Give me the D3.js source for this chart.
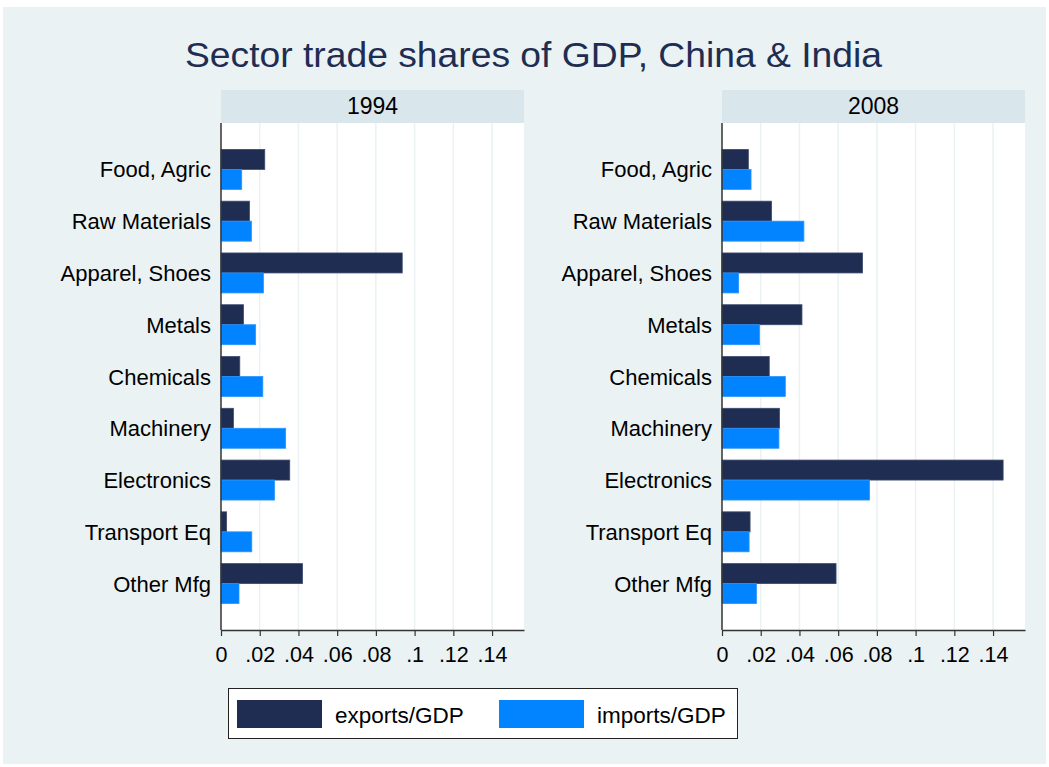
<!DOCTYPE html>
<html>
<head>
<meta charset="utf-8">
<script src="https://cdn.jsdelivr.net/npm/d3@7"></script>
<style>
  body { margin: 0; background: #fff; }
  svg { display: block; font-family: 'Liberation Sans', Arial, Helvetica, sans-serif; }
</style>
</head>
<body>
<div id="chart"></div>
<script>
const categories = ['Food, Agric', 'Raw Materials', 'Apparel, Shoes', 'Metals', 'Chemicals',
  'Machinery', 'Electronics', 'Transport Eq', 'Other Mfg']
const years = ['1994', '2008']
const series = ['exports/GDP', 'imports/GDP']
const exports1994 = [0.0226, 0.0147, 0.0936, 0.0116, 0.0097, 0.0064, 0.0355, 0.0029, 0.0421]
const imports1994 = [0.0107, 0.0157, 0.0219, 0.0179, 0.0216, 0.0334, 0.0276, 0.0159, 0.0093]
const exports2008 = [0.0136, 0.0256, 0.0726, 0.0413, 0.0244, 0.0297, 0.1452, 0.0145, 0.0589]
const imports2008 = [0.0150, 0.0423, 0.0086, 0.0194, 0.0327, 0.0294, 0.0762, 0.0140, 0.0178]
const xTicks = [0, 0.02, 0.04, 0.06, 0.08, 0.1, 0.12, 0.14]

const width = 1049
const height = 767
const colors = { 'exports/GDP': '#1f2d52', 'imports/GDP': '#0283ff' }
const bg = '#eaf2f3'

const svg = d3.select('#chart').append('svg')
  .attr('width', width)
  .attr('height', height)

svg.append('rect')
  .attr('x', 3).attr('y', 7)
  .attr('width', 1043).attr('height', 757)
  .attr('fill', bg)

svg.append('text')
  .attr('x', 185)
  .attr('y', 67)
  .attr('textLength', 697)
  .attr('lengthAdjust', 'spacingAndGlyphs')
  .attr('font-size', 35)
  .attr('fill', '#1e2d51')
  .text('Sector trade shares of GDP, China & India')

// stata style labels: .02 instead of 0.02
const fmt = d => d === 0 ? '0' : d3.format('.2~f')(d).replace(/^0\./, '.')

const panels = [
  { year: years[0], left: 221, values: [exports1994, imports1994] },
  { year: years[1], left: 722, values: [exports2008, imports2008] },
]

const plotTop = 123
const plotBottom = 630
const panelWidth = 303

const y = d3.scaleBand()
  .domain(categories)
  .range([plotTop, plotBottom])
  .paddingInner(0.228)
  .paddingOuter(0.51)

const ySub = d3.scaleBand()
  .domain(series)
  .range([0, y.bandwidth()])

panels.forEach(p => {
  const x = d3.scaleLinear()
    .domain([0, 0.1565])
    .range([p.left, p.left + panelWidth])

  const g = svg.append('g')

  // strip header
  g.append('rect')
    .attr('x', p.left).attr('y', 90)
    .attr('width', panelWidth).attr('height', plotTop - 90)
    .attr('fill', '#d9e6eb')
  g.append('text')
    .attr('x', p.left + panelWidth / 2)
    .attr('y', 114)
    .attr('text-anchor', 'middle')
    .attr('font-size', 23)
    .attr('fill', '#000')
    .text(p.year)

  // plot region
  g.append('rect')
    .attr('x', p.left).attr('y', plotTop)
    .attr('width', panelWidth).attr('height', plotBottom - plotTop)
    .attr('fill', '#fff')

  g.selectAll('.grid')
    .data(xTicks.filter(d => d > 0))
    .enter()
    .append('line')
    .attr('x1', d => x(d)).attr('x2', d => x(d))
    .attr('y1', plotTop).attr('y2', plotBottom)
    .attr('stroke', bg)
    .attr('stroke-width', 1.5)

  const rows = categories.map((c, i) => ({
    cat: c,
    bars: series.map((s, j) => ({ s, v: p.values[j][i] })),
  }))

  const row = g.selectAll('.row')
    .data(rows)
    .enter()
    .append('g')
    .attr('transform', d => `translate(0,${y(d.cat)})`)

  row.selectAll('rect')
    .data(d => d.bars)
    .enter()
    .append('rect')
    .attr('x', x(0))
    .attr('y', d => ySub(d.s))
    .attr('width', d => x(d.v) - x(0))
    .attr('height', ySub.bandwidth())
    .attr('fill', d => colors[d.s])
    .attr('stroke', d => d.s === series[0] ? '#3c4a6c' : '#2a95ff')
    .attr('stroke-width', 0.8)

  // category labels
  g.selectAll('.cat')
    .data(categories)
    .enter()
    .append('text')
    .attr('x', p.left - 10)
    .attr('y', d => y(d) + y.bandwidth() / 2 + 8)
    .attr('text-anchor', 'end')
    .attr('font-size', 22)
    .attr('fill', '#000')
    .text(d => d)

  // axes
  g.append('line')
    .attr('x1', p.left).attr('x2', p.left)
    .attr('y1', plotTop).attr('y2', plotBottom)
    .attr('stroke', '#333').attr('stroke-width', 1.5)

  const xAxis = d3.axisBottom(x)
    .tickValues(xTicks)
    .tickFormat(fmt)
    .tickSize(6)
    .tickSizeOuter(0)

  const ax = g.append('g')
    .attr('transform', `translate(0,${plotBottom})`)
    .call(xAxis)
  ax.select('.domain').attr('stroke', '#333').attr('stroke-width', 1.5)
  ax.selectAll('.tick line').attr('stroke', '#333').attr('stroke-width', 1.2)
  ax.selectAll('.tick text')
    .attr('font-size', 21.5)
    .attr('font-family', "'Liberation Sans', Arial, sans-serif")
    .attr('fill', '#000')
    .attr('y', 17)
})

// legend
const legend = svg.append('g')
legend.append('rect')
  .attr('x', 228.5).attr('y', 688.5)
  .attr('width', 509).attr('height', 50)
  .attr('fill', '#fff')
  .attr('stroke', '#222')
  .attr('stroke-width', 1)

const legendX = d3.scalePoint().domain(series).range([237, 499])

const item = legend.selectAll('.item')
  .data(series)
  .enter()
  .append('g')
  .attr('transform', d => `translate(${legendX(d)},700)`)
item.append('rect')
  .attr('width', 85).attr('height', 28)
  .attr('fill', d => colors[d])
item.append('text')
  .attr('x', 98)
  .attr('y', 23)
  .attr('font-size', 22.5)
  .attr('fill', '#000')
  .text(d => d)
</script>
</body>
</html>
